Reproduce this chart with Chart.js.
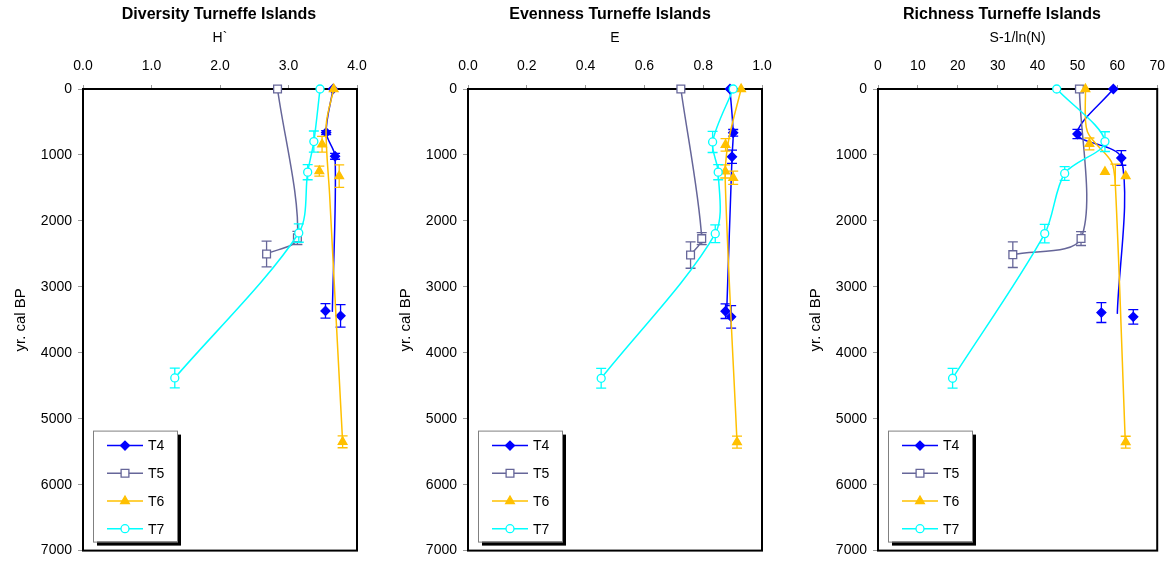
<!DOCTYPE html>
<html lang="en">
<head>
<meta charset="UTF-8">
<title>Turneffe Islands - Diversity, Evenness, Richness</title>
<script src="https://cdn.jsdelivr.net/npm/chart.js@4.4.1/dist/chart.umd.min.js"></script>
<style>
  html, body { margin: 0; padding: 0; background: #fff; overflow: hidden; }
  body { width: 1175px; height: 565px; position: relative; }
  .panel { position: absolute; top: 0; height: 565px; }
</style>
</head>
<body>
<div class="panel" style="left:0;width:400px"><canvas id="divChart"></canvas></div>
<div class="panel" style="left:385px;width:400px"><canvas id="evenChart"></canvas></div>
<div class="panel" style="left:795px;width:380px"><canvas id="richChart"></canvas></div>

<script>
const seriesNames = ['T4', 'T5', 'T6', 'T7'];
const ageTicks = [0, 1000, 2000, 3000, 4000, 5000, 6000, 7000];
const divTicks = [0, 1, 2, 3, 4];
const evenTicks = [0, 0.2, 0.4, 0.6, 0.8, 1.0];
const richTicks = [0, 10, 20, 30, 40, 50, 60, 70];

// line paths are [value, age]; markers are [value, age, age error, marker shown (default yes)]
// Diversity H`
const divT4Line = [[3.65, 0], [3.55, 660], [3.68, 1020], [3.64, 3380]];
const divT4Pts  = [[3.65, 0, 0], [3.55, 660, 30], [3.68, 1020, 45], [3.54, 3365, 110], [3.76, 3440, 170]];
const divT5Line = [[2.84, 0], [3.13, 2258], [2.68, 2502]];
const divT5Pts  = [[2.84, 0, 0], [3.13, 2258, 100], [2.68, 2502, 195]];
const divT6Line = [[3.66, 0], [3.55, 550], [3.6, 1600], [3.79, 5350]];
const divT6Pts  = [[3.66, 0, 0], [3.49, 838, 120], [3.45, 1246, 75], [3.74, 1321, 170], [3.79, 5350, 90]];
const divT7Line = [[3.46, 0], [3.37, 797], [3.28, 1261], [3.15, 2184], [1.34, 4382]];
const divT7Pts  = [[3.46, 0, 0], [3.37, 797, 160], [3.28, 1261, 115], [3.15, 2184, 140], [1.34, 4382, 150]];

// Evenness E
const evenT4Line = [[0.891, 0], [0.902, 664], [0.898, 1027], [0.88, 3370]];
const evenT4Pts  = [[0.891, 0, 0], [0.902, 664, 50], [0.898, 1027, 100], [0.876, 3370, 110], [0.895, 3455, 170]];
const evenT5Line = [[0.724, 0], [0.795, 2269], [0.757, 2518]];
const evenT5Pts  = [[0.724, 0, 0], [0.795, 2269, 90], [0.757, 2518, 200]];
const evenT6Line = [[0.929, 0], [0.885, 813], [0.875, 1400], [0.915, 5355]];
const evenT6Pts  = [[0.929, 0, 0], [0.876, 848, 95], [0.875, 1250, 100], [0.902, 1346, 100], [0.915, 5355, 90]];
const evenT7Line = [[0.902, 0], [0.832, 803], [0.851, 1261], [0.841, 2194], [0.453, 4387]];
const evenT7Pts  = [[0.902, 0, 0], [0.832, 803, 160], [0.851, 1261, 115], [0.841, 2194, 135], [0.453, 4387, 150]];

// Richness S-1/ln(N)
const richT4Line = [[59, 0], [50, 683], [61, 1046], [60, 3410]];
const richT4Pts  = [[59, 0, 0], [50, 683, 70], [61, 1046, 110], [56, 3391, 150], [64, 3455, 110]];
const richT5Line = [[50.5, 0], [50.9, 2268], [33.8, 2512]];
const richT5Pts  = [[50.5, 0, 0], [50.9, 2268, 105], [33.8, 2512, 195]];
const richT6Line = [[52, 0], [52.5, 650], [58.5, 1100], [59.5, 1450], [62, 5356]];
const richT6Pts  = [[52, 0, 0], [53, 833, 90], [56.9, 1256, 0], [62.1, 1321, 0], [59.5, 1300, 160, 0], [62.1, 5356, 90]];
const richT7Line = [[44.8, 0], [56.9, 798], [46.8, 1281], [41.8, 2193], [18.7, 4386]];
const richT7Pts  = [[44.8, 0, 0], [56.9, 798, 150], [46.8, 1281, 105], [41.8, 2193, 140], [18.7, 4386, 150]];

const FONT = 'Arial, "Liberation Sans", sans-serif';
const seriesStyle = {
    T4: { color: '#0000FF', fill: '#0000FF', point: 'rectRot', radius: 4.5 },
    T5: { color: '#666699', fill: '#FFFFFF', point: 'rect', radius: 5.5 },
    T6: { color: '#FFC000', fill: '#FFC000', point: 'triangle', radius: 5 },
    T7: { color: '#00FFFF', fill: '#FFFFFF', point: 'circle', radius: 4 }
};

function makeDatasets(lines, pts) {
    const sets = [];
    seriesNames.forEach((name, i) => {
        const st = seriesStyle[name];
        sets.push({
            label: name,
            data: lines[i].map(p => ({ x: p[0], y: p[1] })),
            showLine: true,
            borderColor: st.color,
            borderWidth: 1.5,
            tension: 0.3,
            pointRadius: 0,
            pointHoverRadius: 0,
            clip: false,
            order: (3 - i) * 2 + 1
        });
        sets.push({
            label: name,
            isMarker: true,
            markerRadius: st.radius,
            data: pts[i].map(p => ({ x: p[0], y: p[1], err: p[2], show: p[3] !== 0 })),
            showLine: false,
            pointStyle: st.point,
            pointRadius: c => (c.raw && c.raw.show === false ? 0 : st.radius),
            pointBackgroundColor: st.fill,
            pointBorderColor: st.color,
            pointBorderWidth: 1.3,
            clip: false,
            order: (3 - i) * 2
        });
    });
    return sets;
}

// vertical error bars drawn under each marker set
const errorBars = {
    id: 'errorBars',
    beforeDatasetDraw(chart, args) {
        const ds = chart.data.datasets[args.index];
        if (!ds.isMarker) return;
        const yScale = chart.scales.y;
        const ctx = chart.ctx;
        ctx.save();
        ctx.strokeStyle = ds.pointBorderColor;
        ctx.lineWidth = 1.3;
        args.meta.data.forEach((el, j) => {
            const e = ds.data[j].err;
            if (!e) return;
            const y1 = yScale.getPixelForValue(ds.data[j].y - e);
            const y2 = yScale.getPixelForValue(ds.data[j].y + e);
            ctx.beginPath();
            ctx.moveTo(el.x, y1); ctx.lineTo(el.x, y2);
            ctx.moveTo(el.x - 5, y1); ctx.lineTo(el.x + 5, y1);
            ctx.moveTo(el.x - 5, y2); ctx.lineTo(el.x + 5, y2);
            ctx.stroke();
        });
        ctx.restore();
    }
};

const plotFrame = {
    id: 'plotFrame',
    beforeDatasetsDraw(chart) {
        const a = chart.chartArea;
        const ctx = chart.ctx;
        ctx.save();
        ctx.strokeStyle = '#000';
        ctx.lineWidth = 2;
        ctx.strokeRect(a.left, a.top, a.right - a.left, a.bottom - a.top);
        ctx.restore();
    }
};

const panelTitle = {
    id: 'panelTitle',
    afterDraw(chart, args, opts) {
        const ctx = chart.ctx;
        ctx.save();
        ctx.font = 'bold 16px ' + FONT;
        ctx.fillStyle = '#000';
        ctx.textAlign = 'center';
        ctx.textBaseline = 'middle';
        ctx.fillText(opts.text, opts.x, 15);
        ctx.restore();
    }
};

function drawMarker(ctx, style, x, y, r) {
    ctx.beginPath();
    if (style === 'rectRot') {
        ctx.moveTo(x, y - r); ctx.lineTo(x + r, y); ctx.lineTo(x, y + r); ctx.lineTo(x - r, y); ctx.closePath();
    } else if (style === 'rect') {
        const s = r * Math.SQRT1_2;
        ctx.rect(x - s, y - s, 2 * s, 2 * s);
    } else if (style === 'triangle') {
        ctx.moveTo(x, y - r);
        ctx.lineTo(x + r * Math.sin(2 * Math.PI / 3), y - r * Math.cos(2 * Math.PI / 3));
        ctx.lineTo(x + r * Math.sin(4 * Math.PI / 3), y - r * Math.cos(4 * Math.PI / 3));
        ctx.closePath();
    } else {
        ctx.arc(x, y, r, 0, 2 * Math.PI);
    }
    ctx.fill();
    ctx.stroke();
}

// boxed legend with drop shadow in the lower left of the plot
const boxLegend = {
    id: 'boxLegend',
    afterDraw(chart) {
        const a = chart.chartArea;
        const ctx = chart.ctx;
        const left = a.left + 10, top = a.bottom - 120, w = 84, h = 111;
        ctx.save();
        ctx.fillStyle = '#000';
        ctx.fillRect(left + 4, top + 4, w, h);
        ctx.fillStyle = '#fff';
        ctx.fillRect(left, top, w, h);
        ctx.strokeStyle = '#808080';
        ctx.lineWidth = 1;
        ctx.strokeRect(left + 0.5, top + 0.5, w, h);
        const markers = chart.data.datasets.filter(d => d.isMarker);
        markers.forEach((ds, i) => {
            const y = top + 15 + i * 27.7;
            ctx.strokeStyle = ds.pointBorderColor;
            ctx.lineWidth = 1.5;
            ctx.beginPath();
            ctx.moveTo(left + 14, y); ctx.lineTo(left + 50, y);
            ctx.stroke();
            ctx.fillStyle = ds.pointBackgroundColor;
            ctx.lineWidth = 1.3;
            drawMarker(ctx, ds.pointStyle, left + 32, y, ds.markerRadius);
            ctx.fillStyle = '#000';
            ctx.font = '14px ' + FONT;
            ctx.textAlign = 'left';
            ctx.textBaseline = 'middle';
            ctx.fillText(ds.label, left + 55, y + 1);
        });
        ctx.restore();
    }
};

function makeChart(id, cfg) {
    const tickFont = { family: FONT, size: 14 };
    new Chart(document.getElementById(id), {
        type: 'scatter',
        data: { datasets: makeDatasets(cfg.lines, cfg.pts) },
        options: {
            responsive: true,
            maintainAspectRatio: false,
            animation: false,
            events: [],
            layout: { padding: { top: 0, left: 0, bottom: 8, right: cfg.padRight } },
            plugins: {
                legend: { display: false },
                tooltip: { enabled: false },
                panelTitle: { text: cfg.title, x: cfg.titleX }
            },
            scales: {
                x: {
                    type: 'linear',
                    position: 'top',
                    min: cfg.ticks[0],
                    max: cfg.ticks[cfg.ticks.length - 1],
                    afterBuildTicks: s => { s.ticks = cfg.ticks.map(v => ({ value: v })); },
                    afterFit: s => { s.height = 89; },
                    ticks: {
                        font: tickFont, color: '#000', padding: 10,
                        maxRotation: 0, autoSkip: false,
                        callback: cfg.fmt
                    },
                    grid: { drawOnChartArea: false, tickLength: 4, color: '#999' },
                    border: { display: false },
                    title: { display: true, text: cfg.unit, font: tickFont, color: '#000', padding: { top: 30, bottom: 0 } }
                },
                y: {
                    type: 'linear',
                    reverse: true,
                    min: 0,
                    max: 7000,
                    afterBuildTicks: s => { s.ticks = ageTicks.map(v => ({ value: v })); },
                    afterFit: s => { s.width = 83; },
                    ticks: { font: tickFont, color: '#000', padding: 6, callback: v => String(v) },
                    grid: { drawOnChartArea: false, tickLength: 5, color: '#999' },
                    border: { display: false },
                    title: { display: true, text: 'yr. cal BP', font: { family: FONT, size: 15 }, color: '#000', padding: { top: 12, bottom: 0 } }
                }
            }
        },
        plugins: [errorBars, plotFrame, panelTitle, boxLegend]
    });
}

makeChart('divChart', {
    title: 'Diversity Turneffe Islands', titleX: 219, unit: 'H`',
    ticks: divTicks, fmt: v => v.toFixed(1), padRight: 43,
    lines: [divT4Line, divT5Line, divT6Line, divT7Line],
    pts: [divT4Pts, divT5Pts, divT6Pts, divT7Pts]
});
makeChart('evenChart', {
    title: 'Evenness Turneffe Islands', titleX: 610 - 385, unit: 'E',
    ticks: evenTicks, fmt: v => v.toFixed(1), padRight: 23,
    lines: [evenT4Line, evenT5Line, evenT6Line, evenT7Line],
    pts: [evenT4Pts, evenT5Pts, evenT6Pts, evenT7Pts]
});
makeChart('richChart', {
    title: 'Richness Turneffe Islands', titleX: 1002 - 795, unit: 'S-1/ln(N)',
    ticks: richTicks, fmt: v => String(v), padRight: 15,
    lines: [richT4Line, richT5Line, richT6Line, richT7Line],
    pts: [richT4Pts, richT5Pts, richT6Pts, richT7Pts]
});
</script>
</body>
</html>
